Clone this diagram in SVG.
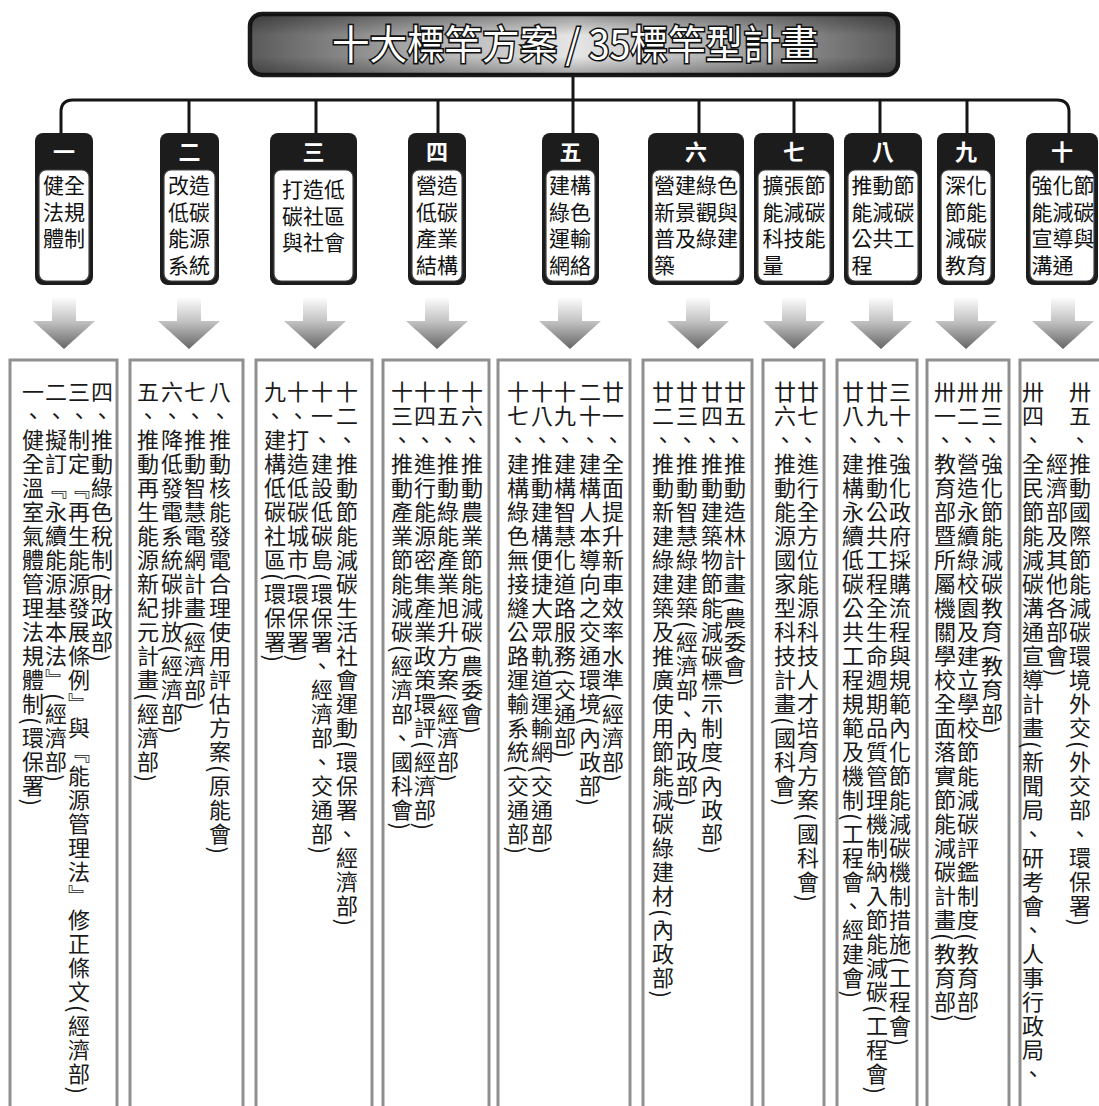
<svg xmlns="http://www.w3.org/2000/svg" width="1099" height="1106" viewBox="0 0 1099 1106">
<style>
text { font-family: "Noto Sans CJK TC", "Noto Sans CJK SC", sans-serif; }
.num { fill: #fff; font-size: 22px; font-weight: bold; text-anchor: middle; }
.lbl { fill: #111; font-size: 21px; font-family: "Liberation Sans", "Noto Sans CJK TC", "Noto Sans CJK SC", sans-serif; }
.v { writing-mode: vertical-rl; font-size: 22px; letter-spacing: 2px; fill: #1a1a1a; }
.hdr { fill: #1c1c1c; }
.inner { fill: #fff; stroke: #444; stroke-width: 1.2; }
.list { fill: #fff; stroke: #909090; stroke-width: 3; }
.wire { fill: none; stroke: #151515; stroke-width: 3; }
.title { font-size: 40px; fill: #fff; stroke: #111; stroke-width: 3.2; paint-order: stroke; text-anchor: middle; }
</style>
<defs>
<linearGradient id="tgH" x1="0" y1="0" x2="1" y2="0">
<stop offset="0" stop-color="#5a5a5a"/>
<stop offset="0.25" stop-color="#a8a8a8"/>
<stop offset="0.5" stop-color="#e6e6e6"/>
<stop offset="0.75" stop-color="#a8a8a8"/>
<stop offset="1" stop-color="#5a5a5a"/>
</linearGradient>
<linearGradient id="tgV" x1="0" y1="0" x2="0" y2="1">
<stop offset="0" stop-color="#000" stop-opacity="0.35"/>
<stop offset="0.35" stop-color="#000" stop-opacity="0"/>
<stop offset="0.7" stop-color="#000" stop-opacity="0"/>
<stop offset="1" stop-color="#000" stop-opacity="0.3"/>
</linearGradient>
<linearGradient id="ag" gradientUnits="userSpaceOnUse" x1="0" y1="298" x2="0" y2="349">
<stop offset="0" stop-color="#fbfbfb"/>
<stop offset="0.45" stop-color="#c4c4c4"/>
<stop offset="1" stop-color="#656565"/>
</linearGradient>
<path id="arrow" d="M-12,298 H12 V321 H31 L0,349 L-31,321 H-12 Z" fill="url(#ag)"/>
</defs>

<g id="connectors">
<line class="wire" x1="573" y1="77" x2="573" y2="101"/>
<path class="wire" d="M61,134 V112 Q61,100 73,100 H1057 Q1069,100 1069,112 V134"/>
<line class="wire" x1="189" y1="100" x2="189" y2="134"/>
<line class="wire" x1="316" y1="100" x2="316" y2="134"/>
<line class="wire" x1="438" y1="100" x2="438" y2="134"/>
<line class="wire" x1="573" y1="100" x2="573" y2="134"/>
<line class="wire" x1="699" y1="100" x2="699" y2="134"/>
<line class="wire" x1="794" y1="100" x2="794" y2="134"/>
<line class="wire" x1="880" y1="100" x2="880" y2="134"/>
<line class="wire" x1="967" y1="100" x2="967" y2="134"/>
<use href="#arrow" x="64"/>
<use href="#arrow" x="189"/>
<use href="#arrow" x="315"/>
<use href="#arrow" x="437"/>
<use href="#arrow" x="570"/>
<use href="#arrow" x="698"/>
<use href="#arrow" x="794"/>
<use href="#arrow" x="881"/>
<use href="#arrow" x="966"/>
<use href="#arrow" x="1063"/>
</g>

<g id="title">
<rect x="250" y="14" width="648" height="61" rx="12" fill="url(#tgH)" stroke="#1a1a1a" stroke-width="4.5"/>
<rect x="250" y="14" width="648" height="61" rx="12" fill="url(#tgV)"/>
<text class="title" x="575" y="59" textLength="486" lengthAdjust="spacingAndGlyphs">十大標竿方案 / 35標竿型計畫</text>
</g>

<g id="h1">
<rect class="hdr" x="35" y="133" width="58" height="152" rx="8"/>
<rect class="inner" x="39" y="170" width="50" height="111" rx="7"/>
<text class="num" x="64" y="160">一</text>
<text class="lbl" x="43" y="193">健全<tspan x="43" dy="26.7">法規</tspan><tspan x="43" dy="26.7">體制</tspan></text>
</g>
<g id="h2">
<rect class="hdr" x="160" y="133" width="59" height="152" rx="8"/>
<rect class="inner" x="164" y="170" width="51" height="111" rx="7"/>
<text class="num" x="189.5" y="160">二</text>
<text class="lbl" x="168" y="193">改造<tspan x="168" dy="26.7">低碳</tspan><tspan x="168" dy="26.7">能源</tspan><tspan x="168" dy="26.7">系統</tspan></text>
</g>
<g id="h3">
<rect class="hdr" x="270" y="133" width="87" height="152" rx="8"/>
<rect class="inner" x="274" y="170" width="79" height="111" rx="7"/>
<text class="num" x="313.5" y="160">三</text>
<text class="lbl" x="282" y="197">打造低<tspan x="282" dy="26.7">碳社區</tspan><tspan x="282" dy="26.7">與社會</tspan></text>
</g>
<g id="h4">
<rect class="hdr" x="408" y="133" width="58" height="152" rx="8"/>
<rect class="inner" x="412" y="170" width="50" height="111" rx="7"/>
<text class="num" x="437" y="160">四</text>
<text class="lbl" x="416" y="193">營造<tspan x="416" dy="26.7">低碳</tspan><tspan x="416" dy="26.7">產業</tspan><tspan x="416" dy="26.7">結構</tspan></text>
</g>
<g id="h5">
<rect class="hdr" x="542" y="133" width="57" height="152" rx="8"/>
<rect class="inner" x="546" y="170" width="49" height="111" rx="7"/>
<text class="num" x="570.5" y="160">五</text>
<text class="lbl" x="549" y="193">建構<tspan x="549" dy="26.7">綠色</tspan><tspan x="549" dy="26.7">運輸</tspan><tspan x="549" dy="26.7">網絡</tspan></text>
</g>
<g id="h6">
<rect class="hdr" x="648" y="133" width="96" height="152" rx="8"/>
<rect class="inner" x="652" y="170" width="88" height="111" rx="7"/>
<text class="num" x="696" y="160">六</text>
<text class="lbl" x="654" y="193">營建綠色<tspan x="654" dy="26.7">新景觀與</tspan><tspan x="654" dy="26.7">普及綠建</tspan><tspan x="654" dy="26.7">築</tspan></text>
</g>
<g id="h7">
<rect class="hdr" x="754" y="133" width="80" height="152" rx="8"/>
<rect class="inner" x="758" y="170" width="72" height="111" rx="7"/>
<text class="num" x="794" y="160">七</text>
<text class="lbl" x="762.5" y="193">擴張節<tspan x="762.5" dy="26.7">能減碳</tspan><tspan x="762.5" dy="26.7">科技能</tspan><tspan x="762.5" dy="26.7">量</tspan></text>
</g>
<g id="h8">
<rect class="hdr" x="844" y="133" width="78" height="152" rx="8"/>
<rect class="inner" x="848" y="170" width="70" height="111" rx="7"/>
<text class="num" x="883" y="160">八</text>
<text class="lbl" x="851.5" y="193">推動節<tspan x="851.5" dy="26.7">能減碳</tspan><tspan x="851.5" dy="26.7">公共工</tspan><tspan x="851.5" dy="26.7">程</tspan></text>
</g>
<g id="h9">
<rect class="hdr" x="937" y="133" width="58" height="152" rx="8"/>
<rect class="inner" x="941" y="170" width="50" height="111" rx="7"/>
<text class="num" x="966" y="160">九</text>
<text class="lbl" x="945" y="193">深化<tspan x="945" dy="26.7">節能</tspan><tspan x="945" dy="26.7">減碳</tspan><tspan x="945" dy="26.7">教育</tspan></text>
</g>
<g id="h10">
<rect class="hdr" x="1026" y="133" width="72" height="152" rx="8"/>
<rect class="inner" x="1030" y="170" width="64" height="111" rx="7"/>
<text class="num" x="1062" y="160">十</text>
<text class="lbl" x="1031.5" y="193">強化節<tspan x="1031.5" dy="26.7">能減碳</tspan><tspan x="1031.5" dy="26.7">宣導與</tspan><tspan x="1031.5" dy="26.7">溝通</tspan></text>
</g>

<g id="l1">
<rect class="list" x="10" y="360" width="107" height="760"/>
<text class="v" x="33" y="381">一、健全溫室氣體管理法規體制(環保署)</text>
<text class="v" x="56" y="381">二、擬訂『永續能源基本法』(經濟部)</text>
<text class="v" x="79" y="381">三、制定『再生能源發展條例』與『能源管理法』修正條文(經濟部)</text>
<text class="v" x="102" y="381">四、推動綠色稅制(財政部)</text>
</g>
<g id="l2">
<rect class="list" x="130" y="360" width="113" height="760"/>
<text class="v" x="148" y="381">五、推動再生能源新紀元計畫(經濟部)</text>
<text class="v" x="172" y="381">六、降低發電系統碳排放(經濟部)</text>
<text class="v" x="195" y="381">七、推動智慧電網計畫(經濟部)</text>
<text class="v" x="220" y="381">八、推動核能發電合理使用評估方案(原能會)</text>
</g>
<g id="l3">
<rect class="list" x="256" y="360" width="116" height="760"/>
<text class="v" x="275" y="381">九、建構低碳社區(環保署)</text>
<text class="v" x="298" y="381">十、打造低碳城市(環保署)</text>
<text class="v" x="322" y="381">十一、建設低碳島(環保署、經濟部、交通部)</text>
<text class="v" x="347" y="381">十二、推動節能減碳生活社會運動(環保署、經濟部)</text>
</g>
<g id="l4">
<rect class="list" x="383" y="360" width="106" height="760"/>
<text class="v" x="402" y="381">十三、推動產業節能減碳(經濟部、國科會)</text>
<text class="v" x="425" y="381">十四、進行能源密集產業政策環評(經濟部)</text>
<text class="v" x="448" y="381">十五、推動綠能產業旭升方案(經濟部)</text>
<text class="v" x="472" y="381">十六、推動農業節能減碳(農委會)</text>
</g>
<g id="l5">
<rect class="list" x="498" y="360" width="132" height="760"/>
<text class="v" x="518" y="381">十七、建構綠色無接縫公路運輸系統(交通部)</text>
<text class="v" x="542" y="381">十八、推動建構便捷大眾軌道運輸網(交通部)</text>
<text class="v" x="565" y="381">十九、建構智慧化道路服務(交通部)</text>
<text class="v" x="590" y="381">二十、建構人本導向之交通環境(內政部)</text>
<text class="v" x="613" y="381">廿一、全面提升新車效率水準(經濟部)</text>
</g>
<g id="l6">
<rect class="list" x="643" y="360" width="109" height="760"/>
<text class="v" x="663" y="381">廿二、推動新建綠建築及推廣使用節能減碳綠建材(內政部)</text>
<text class="v" x="687" y="381">廿三、推動智慧綠建築(經濟部、內政部)</text>
<text class="v" x="712" y="381">廿四、推動建築物節能減碳標示制度(內政部)</text>
<text class="v" x="735" y="381">廿五、推動造林計畫(農委會)</text>
</g>
<g id="l7">
<rect class="list" x="763" y="360" width="61" height="760"/>
<text class="v" x="785" y="381">廿六、推動能源國家型科技計畫(國科會)</text>
<text class="v" x="808" y="381">廿七、進行全方位能源科技人才培育方案(國科會)</text>
</g>
<g id="l8">
<rect class="list" x="837" y="360" width="80" height="760"/>
<text class="v" x="853" y="381">廿八、建構永續低碳公共工程規範及機制(工程會、經建會)</text>
<text class="v" x="877" y="381">廿九、推動公共工程全生命週期品質管理機制納入節能減碳(工程會)</text>
<text class="v" x="900" y="381">三十、強化政府採購流程與規範內化節能減碳機制措施(工程會)</text>
</g>
<g id="l9">
<rect class="list" x="927" y="360" width="82" height="760"/>
<text class="v" x="945" y="381">卅一、教育部暨所屬機關學校全面落實節能減碳計畫(教育部)</text>
<text class="v" x="968" y="381">卅二、營造永續綠校園及建立學校節能減碳評鑑制度(教育部)</text>
<text class="v" x="992" y="381">卅三、強化節能減碳教育(教育部)</text>
</g>
<g id="l10">
<rect class="list" x="1020" y="360" width="100" height="760"/>
<text class="v" x="1033" y="381">卅四、全民節能減碳溝通宣導計畫(新聞局、研考會、人事行政局、</text>
<text class="v" x="1057" y="453">經濟部及其他各部會)</text>
<text class="v" x="1080" y="381">卅五、推動國際節能減碳環境外交(外交部、環保署)</text>
</g>
</svg>
